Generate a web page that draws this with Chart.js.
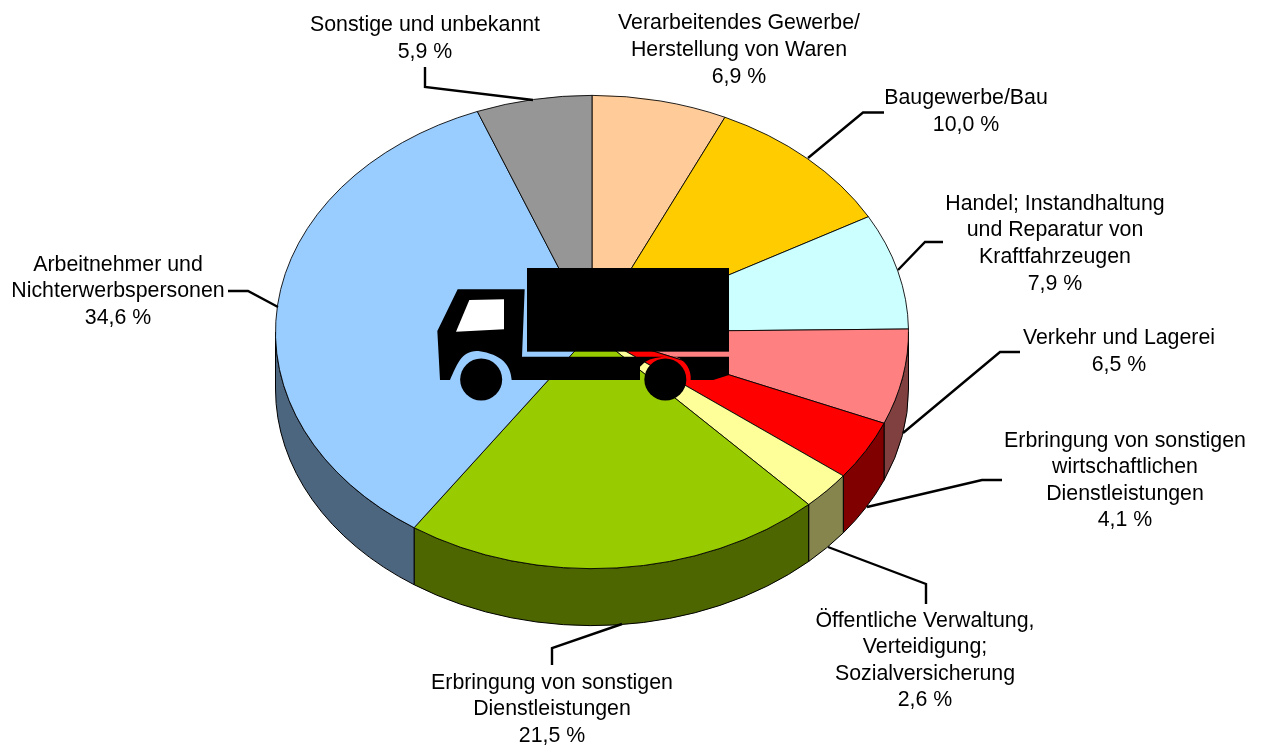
<!DOCTYPE html>
<html lang="de">
<head>
<meta charset="utf-8">
<title>Kreisdiagramm</title>
<style>
html,body{margin:0;padding:0;background:#fff;}
canvas{display:block;}
</style>
<script src="https://cdn.jsdelivr.net/npm/chart.js@4/dist/chart.umd.min.js"></script>
</head>
<body>
<canvas id="c" width="1262" height="749"></canvas>
<script>
const categories = [
  ["Verarbeitendes Gewerbe/", "Herstellung von Waren"],
  ["Baugewerbe/Bau"],
  ["Handel; Instandhaltung", "und Reparatur von", "Kraftfahrzeugen"],
  ["Verkehr und Lagerei"],
  ["Erbringung von sonstigen", "wirtschaftlichen", "Dienstleistungen"],
  ["Öffentliche Verwaltung,", "Verteidigung;", "Sozialversicherung"],
  ["Erbringung von sonstigen", "Dienstleistungen"],
  ["Arbeitnehmer und", "Nichterwerbspersonen"],
  ["Sonstige und unbekannt"]
];
const shares = [6.9, 10.0, 7.9, 6.5, 4.1, 2.6, 21.5, 34.6, 5.9];
const topColors = ["#FFCC99","#FFCC00","#CCFFFF","#FF8080","#FF0000","#FFFF99","#99CC00","#99CCFF","#969696"];
const sideColors = ["#806650","#806600","#668080","#804040","#800000","#85854D","#4D6600","#4D6680","#4B4B4B"];

// label anchor: centre x, centre y of the first line
const labelAnchors = [[739,23],[966,98],[1055,204],[1119,338],[1125,441],[925,621],[552,683],[118,265],[425,25]];
const lineStep = [27,27,26.6,27,26.4,26.4,26.5,26.5,27];
const leaders = [
  null,
  [[884,112.5],[863,112.5],[808,158]],
  [[943,242],[925,242],[898,270]],
  [[1020,352],[1000,352],[903,433]],
  [[1002,480],[982,480],[867,507]],
  [[828,547],[926,584],[926,604]],
  [[552,665],[552,648],[622,624]],
  [[228,291],[248,291],[278,307]],
  [[425,67],[425,87],[533,100]]
];

const yScale = 237 / 317;
const depth = 57;

const pie3d = {
  id: 'pie3d',
  beforeDatasetsDraw(chart) {
    const ctx = chart.ctx, arcs = chart.getDatasetMeta(0).data;
    const a0 = arcs[0], cx = a0.x, cy = a0.y, rx = a0.outerRadius, ry = rx * yScale;
    ctx.save();
    ctx.lineWidth = 1;
    ctx.strokeStyle = '#000';
    arcs.forEach((a, i) => {
      const s = Math.max(a.startAngle, 0), e = Math.min(a.endAngle, Math.PI);
      if (e <= s) return;
      ctx.beginPath();
      ctx.ellipse(cx, cy, rx, ry, 0, s, e);
      ctx.ellipse(cx, cy + depth, rx, ry, 0, e, s, true);
      ctx.closePath();
      ctx.fillStyle = sideColors[i];
      ctx.fill();
      ctx.stroke();
    });
    ctx.restore();
    ctx.save();
    ctx.translate(cx, cy);
    ctx.scale(1, yScale);
    ctx.translate(-cx, -cy);
  },
  afterDatasetsDraw(chart) {
    const ctx = chart.ctx;
    ctx.restore();
    drawLeaders(ctx);
    drawLabels(ctx);
    drawTruck(ctx);
  }
};

function drawLeaders(ctx) {
  ctx.save();
  ctx.strokeStyle = '#000';
  ctx.lineWidth = 2.4;
  ctx.lineJoin = 'miter';
  leaders.forEach(l => {
    if (!l) return;
    ctx.beginPath();
    l.forEach((p, i) => i ? ctx.lineTo(p[0], p[1]) : ctx.moveTo(p[0], p[1]));
    ctx.stroke();
  });
  ctx.restore();
}

function drawLabels(ctx) {
  ctx.save();
  ctx.fillStyle = '#000';
  ctx.font = '21.33px "Liberation Sans", Arial, sans-serif';
  ctx.textAlign = 'center';
  ctx.textBaseline = 'middle';
  categories.forEach((lines, i) => {
    const all = lines.concat([shares[i].toFixed(1).replace('.', ',') + ' %']);
    all.forEach((t, j) => {
      ctx.fillText(t, labelAnchors[i][0], labelAnchors[i][1] + j * lineStep[i]);
    });
  });
  ctx.restore();
}

function drawTruck(ctx) {
  const X = v => 420 + v / 3, Y = v => 250 + v / 3;
  ctx.save();
  ctx.fillStyle = '#000';
  // cargo box
  ctx.fillRect(X(321), Y(54), X(927) - X(321), Y(305) - Y(54));
  // cab and chassis
  ctx.beginPath();
  ctx.moveTo(X(113), Y(118));
  ctx.lineTo(X(314), Y(118));
  ctx.lineTo(X(306), Y(320));
  ctx.lineTo(X(927), Y(320));
  ctx.lineTo(X(927), Y(375));
  ctx.lineTo(X(880), Y(390));
  ctx.lineTo(X(812), Y(390));
  ctx.bezierCurveTo(X(815), Y(360), X(795), Y(330), X(770), Y(322));
  ctx.bezierCurveTo(X(740), Y(318), X(700), Y(320), X(675), Y(336));
  ctx.lineTo(X(660), Y(350));
  ctx.lineTo(X(660), Y(390));
  ctx.lineTo(X(275), Y(390));
  ctx.bezierCurveTo(X(272), Y(345), X(245), Y(313), X(175), Y(303));
  ctx.bezierCurveTo(X(125), Y(300), X(110), Y(345), X(90), Y(390));
  ctx.lineTo(X(60), Y(390));
  ctx.lineTo(X(52), Y(243));
  ctx.closePath();
  ctx.fill();
  // wheels
  ctx.beginPath();
  ctx.arc(X(183.5), Y(388.5), 21, 0, Math.PI * 2);
  ctx.fill();
  ctx.beginPath();
  ctx.arc(X(736), Y(388.5), 21, 0, Math.PI * 2);
  ctx.fill();
  // window
  ctx.fillStyle = '#fff';
  ctx.beginPath();
  ctx.moveTo(X(148), Y(150));
  ctx.lineTo(X(252), Y(148));
  ctx.lineTo(X(252), Y(238));
  ctx.lineTo(X(108), Y(245));
  ctx.closePath();
  ctx.fill();
  ctx.restore();
}

new Chart(document.getElementById('c'), {
  type: 'pie',
  data: {
    labels: categories.map(l => l.join(' ')),
    datasets: [{
      data: shares,
      backgroundColor: topColors,
      borderColor: '#000',
      borderWidth: 1
    }]
  },
  options: {
    responsive: false,
    animation: false,
    events: [],
    layout: { padding: { left: 275, right: 353, top: 15, bottom: 100 } },
    plugins: { legend: { display: false }, tooltip: { enabled: false } }
  },
  plugins: [pie3d]
});
</script>
</body>
</html>
